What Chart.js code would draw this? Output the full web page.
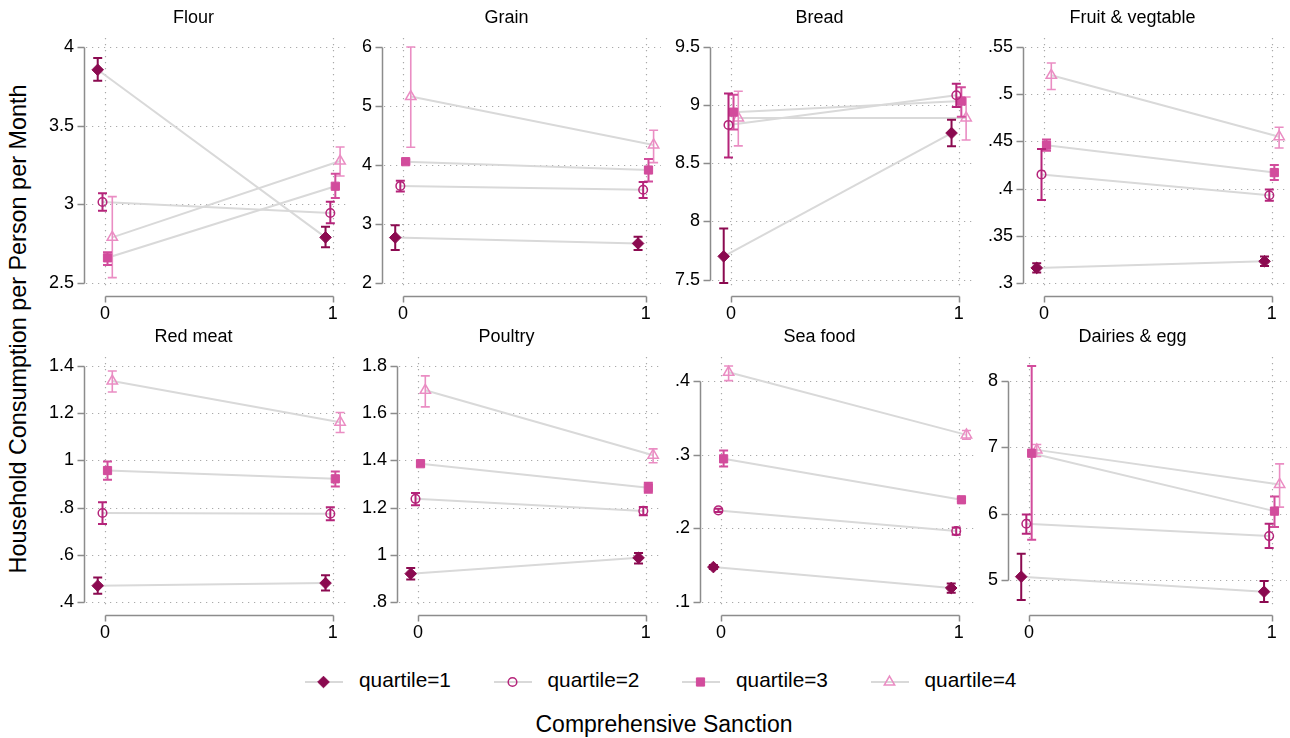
<!DOCTYPE html>
<html lang="en">
<head>
<meta charset="utf-8">
<title>Household consumption by comprehensive sanction and quartile</title>
<script src="https://cdn.jsdelivr.net/npm/chart.js@4.4.1/dist/chart.umd.min.js"></script>
<style>
  html, body { margin: 0; padding: 0; background: #fff; }
  #fig { position: relative; width: 1290px; height: 738px; overflow: hidden; background: #fff;
         font-family: "Liberation Sans", Arial, Helvetica, sans-serif; color: #000; }
  #fig canvas { position: absolute; }
  .axis-title { position: absolute; white-space: nowrap; }
  #ytitle { left: 19px; top: 329px; font-size: 23.4px; line-height: 23.4px;
            transform: translate(-50%, -50%) rotate(-90deg); }
  #xtitle { left: 664px; top: 713px; font-size: 23px; line-height: 23px; transform: translateX(-50%); }
  .legend-text { position: absolute; top: 669.5px; font-size: 20.8px; line-height: 20.8px; white-space: nowrap; }
</style>
</head>
<body>
<div id="fig">
  <div id="ytitle" class="axis-title">Household Consumption per Person per Month</div>
  <div id="xtitle" class="axis-title">Comprehensive Sanction</div>
</div>
<script>
// ---- data -------------------------------------------------------------
const categories = ['Flour', 'Grain', 'Bread', 'Fruit & vegtable',
                    'Red meat', 'Poultry', 'Sea food', 'Dairies & egg'];
const quartiles = ['quartile=1', 'quartile=2', 'quartile=3', 'quartile=4'];
const sanction = [0, 1];

// rows = quartile 1..4, columns = [sanction 0, sanction 1]
const flourMean  = [[3.855, 2.790], [3.015, 2.945], [2.660, 3.115], [2.790, 3.275]];
const flourLow   = [[3.785, 2.727], [2.960, 2.880], [2.614, 3.040], [2.534, 3.180]];
const flourHigh  = [[3.930, 2.858], [3.070, 3.017], [2.695, 3.195], [3.049, 3.364]];
const flourTicks = [2.5, 3, 3.5, 4];

const grainMean  = [[2.770, 2.670], [3.645, 3.580], [4.056, 3.915], [5.160, 4.340]];
const grainLow   = [[2.560, 2.560], [3.550, 3.440], [4.020, 3.720], [4.300, 4.040]];
const grainHigh  = [[2.980, 2.785], [3.735, 3.710], [4.090, 4.100], [6.000, 4.590]];
const grainTicks = [2, 3, 4, 5, 6];

const breadMean  = [[7.700, 8.760], [8.830, 9.085], [8.940, 9.035], [8.890, 8.890]];
const breadLow   = [[7.471, 8.646], [8.550, 8.984], [8.790, 8.900], [8.650, 8.700]];
const breadHigh  = [[7.940, 8.875], [9.100, 9.185], [9.090, 9.155], [9.120, 9.070]];
const breadTicks = [7.5, 8, 8.5, 9, 9.5];

const fruitMean  = [[0.316, 0.323], [0.415, 0.393], [0.446, 0.417], [0.520, 0.455]];
const fruitLow   = [[0.311, 0.318], [0.388, 0.387], [0.440, 0.409], [0.505, 0.443]];
const fruitHigh  = [[0.321, 0.328], [0.442, 0.399], [0.452, 0.425], [0.533, 0.465]];
const fruitTicks = [0.3, 0.35, 0.4, 0.45, 0.5, 0.55];

const redMeatMean  = [[0.469, 0.480], [0.777, 0.774], [0.957, 0.922], [1.336, 1.162]];
const redMeatLow   = [[0.435, 0.449], [0.730, 0.746], [0.918, 0.889], [1.290, 1.118]];
const redMeatHigh  = [[0.504, 0.513], [0.823, 0.802], [0.995, 0.953], [1.379, 1.203]];
const redMeatTicks = [0.4, 0.6, 0.8, 1, 1.2, 1.4];

const poultryMean  = [[0.920, 0.987], [1.237, 1.186], [1.386, 1.284], [1.697, 1.422]];
const poultryLow   = [[0.895, 0.963], [1.210, 1.168], [1.376, 1.263], [1.627, 1.390]];
const poultryHigh  = [[0.944, 1.008], [1.262, 1.203], [1.396, 1.305], [1.758, 1.449]];
const poultryTicks = [0.8, 1, 1.2, 1.4, 1.6, 1.8];

const seaFoodMean  = [[0.1474, 0.1190], [0.2243, 0.1962], [0.2943, 0.2387], [0.4118, 0.3268]];
const seaFoodLow   = [[0.1447, 0.1125], [0.2222, 0.1912], [0.2839, 0.2365], [0.4005, 0.3209]];
const seaFoodHigh  = [[0.1501, 0.1252], [0.2264, 0.2010], [0.3056, 0.2410], [0.4203, 0.3327]];
const seaFoodTicks = [0.1, 0.2, 0.3, 0.4];

const dairyMean  = [[5.055, 4.830], [5.850, 5.665], [6.910, 6.040], [6.960, 6.440]];
const dairyLow   = [[4.705, 4.675], [5.700, 5.485], [5.610, 5.800], [6.860, 6.100]];
const dairyHigh  = [[5.400, 4.990], [5.990, 5.850], [8.220, 6.260], [7.040, 6.750]];
const dairyTicks = [5, 6, 7, 8];

// ---- styling ----------------------------------------------------------
const FONT = '"Liberation Sans", Arial, Helvetica, sans-serif';
Chart.defaults.font.family = FONT;
Chart.defaults.font.size = 18;
Chart.defaults.color = '#000';

// horizontal dodge of the four quartile series around each x value
const DODGE = [-0.032, -0.011, 0.011, 0.032];
const LINK_COLOR = '#d9d9d9';
const MARKERS = [
  { color: '#8B0A50', pointStyle: 'rectRot',  radius: 5.8, filled: true,  ciWidth: 2.0 },
  { color: '#B5247A', pointStyle: 'circle',   radius: 4.3, filled: false, ciWidth: 2.0 },
  { color: '#D24C9C', pointStyle: 'rect',     radius: 5.8, filled: true,  ciWidth: 2.0 },
  { color: '#EA8DC3', pointStyle: 'triangle', radius: 6.0, filled: false, ciWidth: 1.6 }
];

const CELL_W = 313, CELL_H = 322, CELL_X0 = 38, ROW_STEP = 319;

const panels = [
  { title: categories[0], mean: flourMean,   low: flourLow,   high: flourHigh,   ticks: flourTicks },
  { title: categories[1], mean: grainMean,   low: grainLow,   high: grainHigh,   ticks: grainTicks },
  { title: categories[2], mean: breadMean,   low: breadLow,   high: breadHigh,   ticks: breadTicks },
  { title: categories[3], mean: fruitMean,   low: fruitLow,   high: fruitHigh,   ticks: fruitTicks },
  { title: categories[4], mean: redMeatMean, low: redMeatLow, high: redMeatHigh, ticks: redMeatTicks },
  { title: categories[5], mean: poultryMean, low: poultryLow, high: poultryHigh, ticks: poultryTicks },
  { title: categories[6], mean: seaFoodMean, low: seaFoodLow, high: seaFoodHigh, ticks: seaFoodTicks },
  { title: categories[7], mean: dairyMean,   low: dairyLow,   high: dairyHigh,   ticks: dairyTicks }
];

// tick labels without the leading zero (".5", ".35")
const fmt = v => String(+(+v).toFixed(4)).replace(/^0\./, '.').replace(/^-0\./, '-.');

// dotted grid, grey axis lines and tick marks drawn on the scales' tick positions
const framePlugin = {
  id: 'frame',
  beforeDatasetsDraw(chart) {
    const { ctx, chartArea: a, scales: { x, y } } = chart;
    const ys = y.ticks.map(t => Math.round(y.getPixelForValue(t.value)) + 0.5);
    const xs = x.ticks.map(t => Math.round(x.getPixelForValue(t.value)) + 0.5);
    ctx.save();
    ctx.lineWidth = 1.2;
    ctx.strokeStyle = '#a9a9a9';
    ctx.setLineDash([1.2, 4.8]);
    ctx.beginPath();
    ys.forEach(py => { ctx.moveTo(a.left + 2, py); ctx.lineTo(a.right, py); });
    xs.forEach(px => { ctx.moveTo(px, a.top); ctx.lineTo(px, a.bottom); });
    ctx.stroke();

    ctx.setLineDash([]);
    ctx.strokeStyle = '#8c8c8c';
    ctx.lineWidth = 1.5;
    ctx.beginPath();
    const ax = Math.round(a.left) + 0.5;
    ctx.moveTo(ax, Math.min(...ys)); ctx.lineTo(ax, Math.max(...ys));
    ys.forEach(py => { ctx.moveTo(ax - 7, py); ctx.lineTo(ax, py); });
    const ay = Math.round(a.bottom + 6) + 0.5;
    ctx.moveTo(Math.min(...xs), ay); ctx.lineTo(Math.max(...xs), ay);
    xs.forEach(px => { ctx.moveTo(px, ay); ctx.lineTo(px, ay + 6); });
    ctx.stroke();
    ctx.restore();
  }
};

// capped confidence intervals, drawn just before each marker series
const ciPlugin = {
  id: 'ci',
  beforeDatasetDraw(chart, args) {
    const ds = chart.data.datasets[args.index];
    if (!ds.ciLow) return;
    const { ctx, scales: { x, y } } = chart;
    ctx.save();
    ctx.strokeStyle = ds.borderColor;
    ctx.lineWidth = ds.ciWidth;
    ctx.beginPath();
    ds.data.forEach((p, i) => {
      const px = x.getPixelForValue(p.x);
      const y0 = y.getPixelForValue(ds.ciLow[i]);
      const y1 = y.getPixelForValue(ds.ciHigh[i]);
      ctx.moveTo(px, y0); ctx.lineTo(px, y1);
      ctx.moveTo(px - 4.5, y0); ctx.lineTo(px + 4.5, y0);
      ctx.moveTo(px - 4.5, y1); ctx.lineTo(px + 4.5, y1);
    });
    ctx.stroke();
    ctx.restore();
  }
};

const fig = document.getElementById('fig');

panels.forEach((p, k) => {
  const col = k % 4, row = Math.floor(k / 4);
  const canvas = document.createElement('canvas');
  canvas.width = CELL_W;
  canvas.height = CELL_H;
  canvas.style.left = (CELL_X0 + CELL_W * col) + 'px';
  canvas.style.top = (ROW_STEP * row) + 'px';
  fig.appendChild(canvas);

  // value range: ticks and intervals, plus a small inner margin
  const lo = Math.min(p.ticks[0], ...p.low.flat());
  const hi = Math.max(p.ticks[p.ticks.length - 1], ...p.high.flat());
  const span = hi - lo;
  const yMin = lo - span * 7 / 236;
  const yMax = hi + span * 9 / 236;

  const datasets = [];
  p.mean.forEach((m, q) => {
    datasets.push({
      label: quartiles[q] + ' link',
      data: sanction.map((s, j) => ({ x: s + DODGE[q], y: m[j] })),
      showLine: true,
      borderColor: LINK_COLOR,
      borderWidth: 2,
      pointRadius: 0,
      order: 5
    });
  });
  p.mean.forEach((m, q) => {
    const st = MARKERS[q];
    datasets.push({
      label: quartiles[q],
      data: sanction.map((s, j) => ({ x: s + DODGE[q], y: m[j] })),
      ciLow: p.low[q],
      ciHigh: p.high[q],
      ciWidth: st.ciWidth,
      showLine: false,
      pointStyle: st.pointStyle,
      pointRadius: st.radius,
      pointBorderWidth: st.filled ? 1 : 1.5,
      borderColor: st.color,
      backgroundColor: st.filled ? st.color : 'rgba(0,0,0,0)',
      pointBackgroundColor: st.filled ? st.color : 'rgba(0,0,0,0)',
      pointBorderColor: st.color,
      order: 1
    });
  });

  new Chart(canvas, {
    type: 'scatter',
    data: { datasets },
    options: {
      responsive: false,
      animation: false,
      events: [],
      // the y scale reserves its tick padding twice, so one side of it acts as the left margin
      layout: { autoPadding: false, padding: { left: 1, right: 3, top: 0, bottom: 0 } },
      plugins: {
        legend: { display: false },
        tooltip: { enabled: false },
        title: {
          display: true,
          text: p.title,
          color: '#000',
          font: { size: 18, weight: 'normal', lineHeight: 1.2 },
          padding: { top: 7, bottom: 9.4 }
        }
      },
      scales: {
        x: {
          type: 'linear',
          bounds: 'data',
          afterDataLimits: s => {
            const u = s.width - 36;
            s.min = -21 / u;
            s.max = 1 + 15 / u;
          },
          afterBuildTicks: s => { s.ticks = sanction.map(v => ({ value: v })); },
          afterFit: s => { s.height = 32; },
          ticks: { padding: 13, maxRotation: 0, autoSkip: false, callback: v => fmt(v), color: '#000' },
          grid: { display: false, drawTicks: false },
          border: { display: false }
        },
        y: {
          type: 'linear',
          bounds: 'data',
          min: yMin,
          max: yMax,
          afterBuildTicks: s => { s.ticks = p.ticks.map(v => ({ value: v })); },
          ticks: { padding: 10, autoSkip: false, callback: v => fmt(v), color: '#000' },
          grid: { display: false, drawTicks: false },
          border: { display: false }
        }
      }
    },
    plugins: [framePlugin, ciPlugin]
  });
});

// ---- legend -------------------------------------------------------------
function drawSymbol(ctx, st, x, y) {
  const r = st.radius;
  ctx.beginPath();
  if (st.pointStyle === 'rectRot') {
    ctx.moveTo(x - r, y); ctx.lineTo(x, y - r); ctx.lineTo(x + r, y); ctx.lineTo(x, y + r);
  } else if (st.pointStyle === 'circle') {
    ctx.arc(x, y, r, 0, Math.PI * 2);
  } else if (st.pointStyle === 'rect') {
    const h = r * Math.SQRT1_2;
    ctx.rect(x - h, y - h, 2 * h, 2 * h);
  } else {
    const a = 2 * Math.PI / 3;
    ctx.moveTo(x, y - r);
    ctx.lineTo(x + Math.sin(a) * r, y - Math.cos(a) * r);
    ctx.lineTo(x + Math.sin(2 * a) * r, y - Math.cos(2 * a) * r);
  }
  ctx.closePath();
  ctx.strokeStyle = st.color;
  ctx.lineWidth = st.filled ? 1 : 1.5;
  if (st.filled) { ctx.fillStyle = st.color; ctx.fill(); }
  ctx.stroke();
}

const LEGEND_X0 = 305, LEGEND_STEP = 188.5;
quartiles.forEach((lab, q) => {
  const left = LEGEND_X0 + LEGEND_STEP * q;
  const c = document.createElement('canvas');
  c.width = 40; c.height = 24;
  c.style.left = left + 'px';
  c.style.top = '670px';
  fig.appendChild(c);
  const ctx = c.getContext('2d');
  ctx.strokeStyle = LINK_COLOR;
  ctx.lineWidth = 2;
  ctx.beginPath(); ctx.moveTo(0, 12); ctx.lineTo(38, 12); ctx.stroke();
  drawSymbol(ctx, MARKERS[q], 18.5, 12);

  const t = document.createElement('div');
  t.className = 'legend-text';
  t.style.left = (left + 54) + 'px';
  t.textContent = lab;
  fig.appendChild(t);
});
</script>
</body>
</html>
